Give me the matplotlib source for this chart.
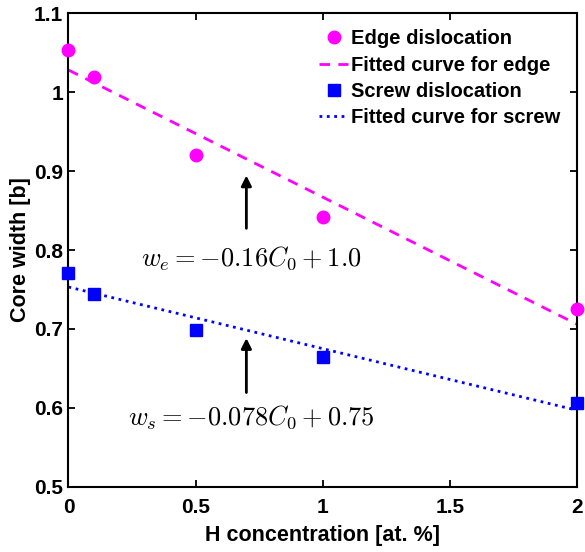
import numpy as np
import matplotlib.pyplot as plt
from matplotlib.ticker import FuncFormatter

plt.rcParams['font.family'] = 'Liberation Sans'
plt.rcParams['font.weight'] = 'bold'
plt.rcParams['mathtext.fontset'] = 'cm'

# H concentration [at. %]
conc = [0, 0.1, 0.5, 1.0, 2.0]
# core widths in units of b
edge_width = [1.054, 1.019, 0.921, 0.842, 0.725]
screw_width = [0.771, 0.744, 0.699, 0.665, 0.606]

xticks = [0, 0.5, 1, 1.5, 2]
yticks = [0.5, 0.6, 0.7, 0.8, 0.9, 1.0, 1.1]

# linear fits
edge_fit = np.polyfit(conc, edge_width, 1)
screw_fit = np.polyfit(conc, screw_width, 1)
xfit = np.array([0, 2])

fig = plt.figure(figsize=(5.85, 5.52), dpi=100)
ax = fig.add_axes([0.117, 0.118, 0.869, 0.858])

ax.plot(conc, edge_width, 'o', color='#ff00ff', markersize=9, clip_on=False,
        zorder=3, label='Edge dislocation')
ax.plot(xfit, np.polyval(edge_fit, xfit), '--', color='#ff00ff', lw=2,
        dashes=(3.8, 3), label='Fitted curve for edge')
ax.plot(conc, screw_width, 's', color='#0000ff', markersize=8.5, clip_on=False,
        zorder=3, label='Screw dislocation')
ax.plot(xfit, np.polyval(screw_fit, xfit), ':', color='#0000ff', lw=2,
        label='Fitted curve for screw')

# arrows pointing at the fitted lines
ax.annotate('', xy=(0.7, 0.898), xytext=(0.7, 0.824),
            arrowprops=dict(arrowstyle='-|>', color='k', lw=2, mutation_scale=15))
ax.annotate('', xy=(0.7, 0.692), xytext=(0.7, 0.616),
            arrowprops=dict(arrowstyle='-|>', color='k', lw=2, mutation_scale=15))
ax.text(0.72, 0.79, r'$w_e = -0.16C_0 + 1.0$', fontsize=19, ha='center', va='center')
ax.text(0.72, 0.588, r'$w_s = -0.078C_0 + 0.75$', fontsize=19, ha='center', va='center')

ax.set_xlim(0, 2)
ax.set_ylim(0.5, 1.1)
ax.set_xticks(xticks)
ax.set_yticks(yticks)
fmt = FuncFormatter(lambda v, p: '%g' % v)
ax.xaxis.set_major_formatter(fmt)
ax.yaxis.set_major_formatter(fmt)
ax.tick_params(direction='in', length=5, width=1.3, labelsize=15,
               top=True, right=True)
ax.tick_params(axis='x', pad=8)
ax.tick_params(axis='y', pad=4)
for s in ax.spines.values():
    s.set_linewidth(1.5)

ax.set_xlabel('H concentration [at. %]', fontsize=15.5, fontweight='bold', labelpad=6)
ax.set_ylabel('Core width [b]', fontsize=15.5, fontweight='bold', labelpad=2)

ax.legend(loc='upper right', frameon=False, handlelength=1.45,
          handletextpad=0.15, labelspacing=0.36, borderaxespad=0.4,
          prop={'weight': 'bold', 'size': 14.5})

plt.savefig('out.png', dpi=100)
